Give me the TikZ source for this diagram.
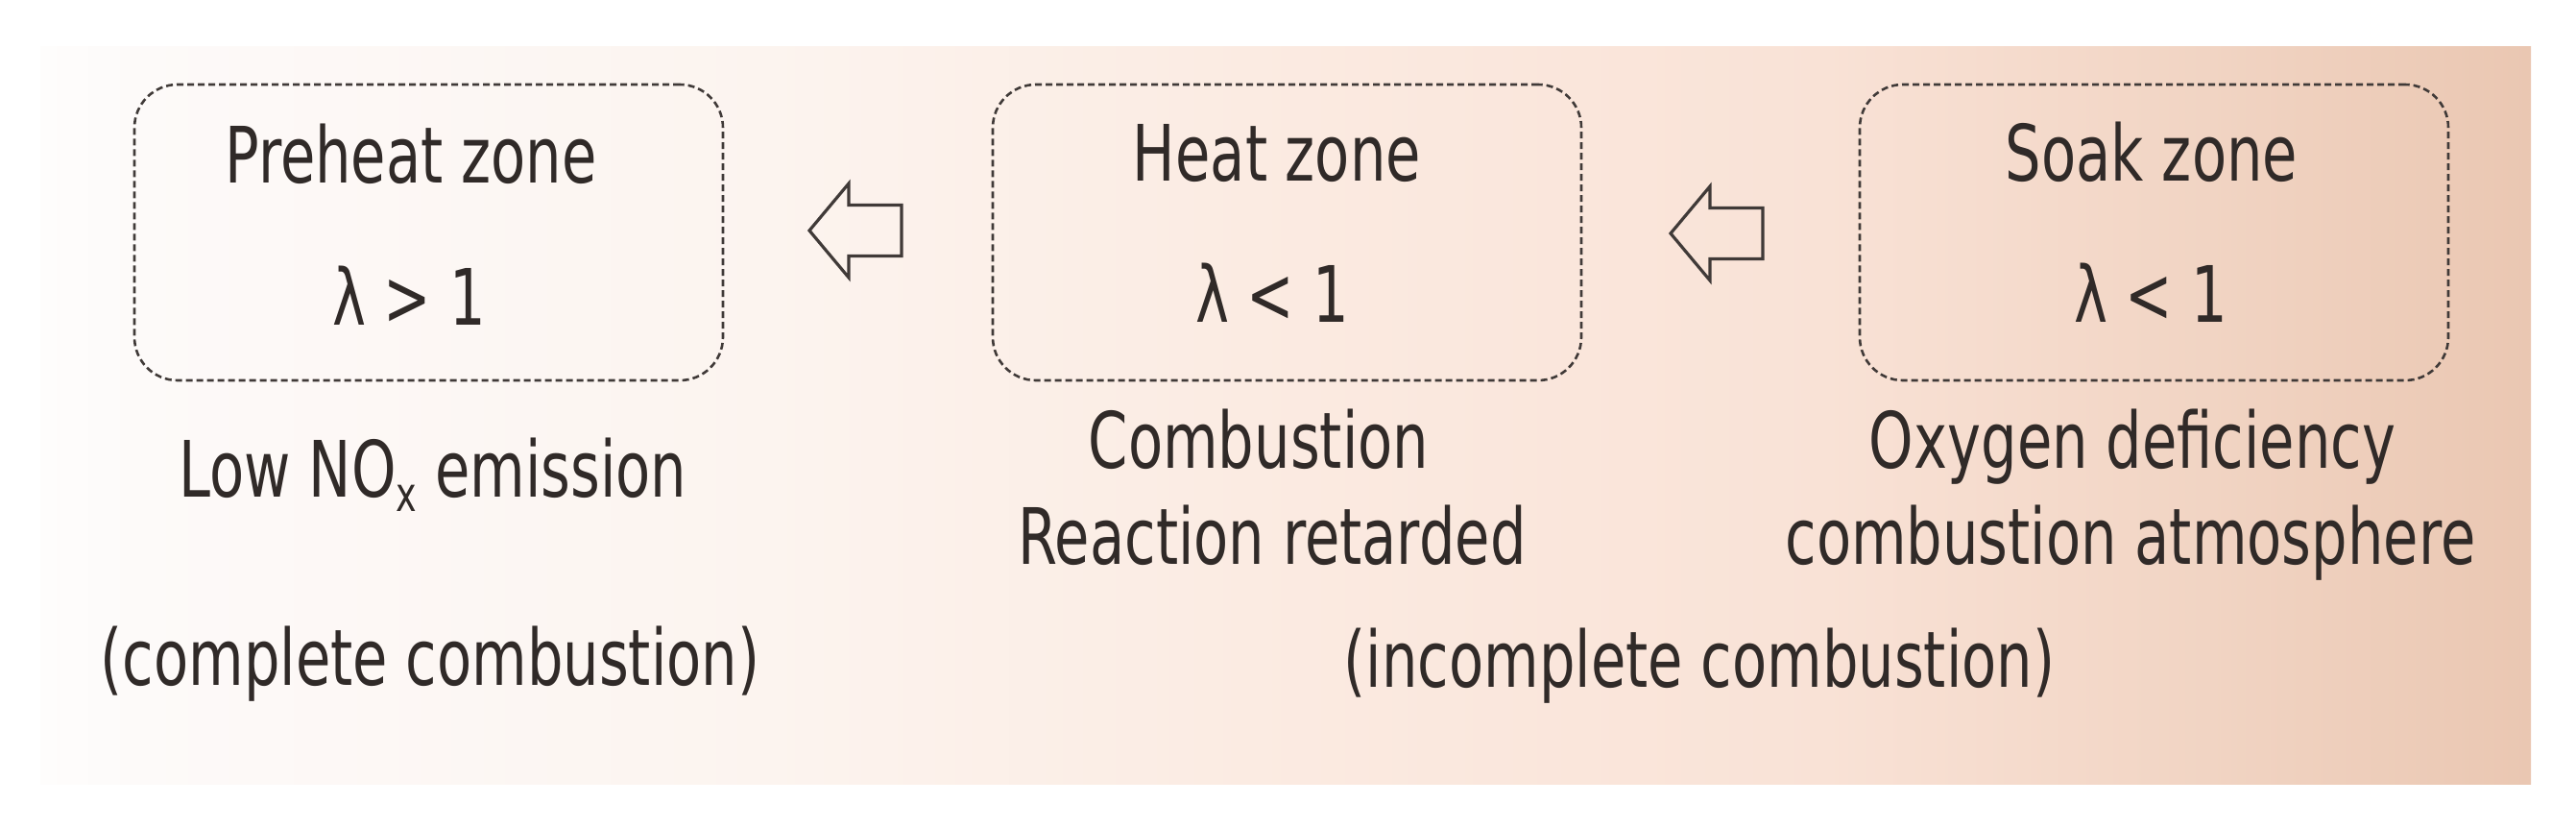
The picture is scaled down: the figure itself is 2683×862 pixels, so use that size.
\documentclass[tikz,border=0pt]{standalone}
\usepackage{fontspec}
\setmainfont{DejaVu Sans}
\usepackage{graphicx}
\definecolor{txt}{HTML}{302A28}
\definecolor{edge}{HTML}{403A38}
\definecolor{bga}{HTML}{FEFDFC}
\definecolor{bgb}{HTML}{FDFAF9}
\definecolor{bgc}{HTML}{FCF4EF}
\definecolor{bgd}{HTML}{FBEBE2}
\definecolor{bge}{HTML}{F9E2D6}
\definecolor{bgf}{HTML}{F1D4C3}
\definecolor{bgg}{HTML}{EAC7B2}
\newcommand{\sqz}[1]{\scalebox{0.73}[1]{#1}}
\begin{document}
\begin{tikzpicture}[x=1pt,y=-1pt,
  zone/.style={draw=edge, line width=2.6pt, dash pattern=on 7pt off 4pt,
    rounded corners=45pt, minimum width=613pt, minimum height=308pt, inner sep=0pt},
  lbl/.style={text=txt, font=\fontsize{81}{90}\selectfont, anchor=base, inner sep=0pt},
  blockarrow/.style={draw=edge, line width=3.2pt, line join=miter}]
\useasboundingbox (0,0) rectangle (2683,862);
\fill[white] (0,0) rectangle (2683,862);
% background gradient
\fill[left color=bga, right color=bgb] (42,48) rectangle (141,816);
\fill[left color=bgb, right color=bgc] (140,48) rectangle (801,816);
\fill[left color=bgc, right color=bgd] (800,48) rectangle (1301,816);
\fill[left color=bgd, right color=bge] (1300,48) rectangle (1901,816);
\fill[left color=bge, right color=bgf] (1900,48) rectangle (2301,816);
\fill[left color=bgf, right color=bgg] (2300,48) rectangle (2636,816);
% zones
\node[zone] (pre) at (446.5,242) {};
\node[zone] (heat) at (1340.5,242) {};
\node[zone] (soak) at (2243.5,242) {};
% block arrows
\coordinate (a1) at (843,240);
\coordinate (a2) at (1740,243);
\draw[blockarrow] (a1) -- ++(41,-49) -- ++(0,22.5) -- ++(55,0) -- ++(0,53) -- ++(-55,0) -- ++(0,22.5) -- cycle;
\draw[blockarrow] (a2) -- ++(41,-49) -- ++(0,22.5) -- ++(55,0) -- ++(0,53) -- ++(-55,0) -- ++(0,22.5) -- cycle;
% texts in boxes
\node[lbl] (pret) at (428,190) {\sqz{Preheat zone}};
\node[lbl] (prel) at (426,338) {\sqz{λ > 1}};
\node[lbl] (heatt) at (1330,188) {\sqz{Heat zone}};
\node[lbl] (heatl) at (1325,335) {\sqz{λ < 1}};
\node[lbl] (soakt) at (2241,188) {\sqz{Soak zone}};
\node[lbl] (soakl) at (2240,335) {\sqz{λ < 1}};
% texts below
\node[lbl] (nox) at (451,517) {\sqz{Low NO\raisebox{-15pt}{\fontsize{50}{50}\selectfont x} emission}};
\node[lbl] (comb1) at (1311,487) {\sqz{Combustion}};
\node[lbl] (comb2) at (1325,587) {\sqz{Reaction retarded}};
\node[lbl] (oxy1) at (2221,487) {\sqz{Oxygen deficiency}};
\node[lbl] (oxy2) at (2219,587) {\sqz{combustion atmosphere}};
\node[lbl] (compl) at (448,713) {\sqz{(complete combustion)}};
\node[lbl] (incompl) at (1770,715) {\sqz{(incomplete combustion)}};
\end{tikzpicture}
\end{document}
